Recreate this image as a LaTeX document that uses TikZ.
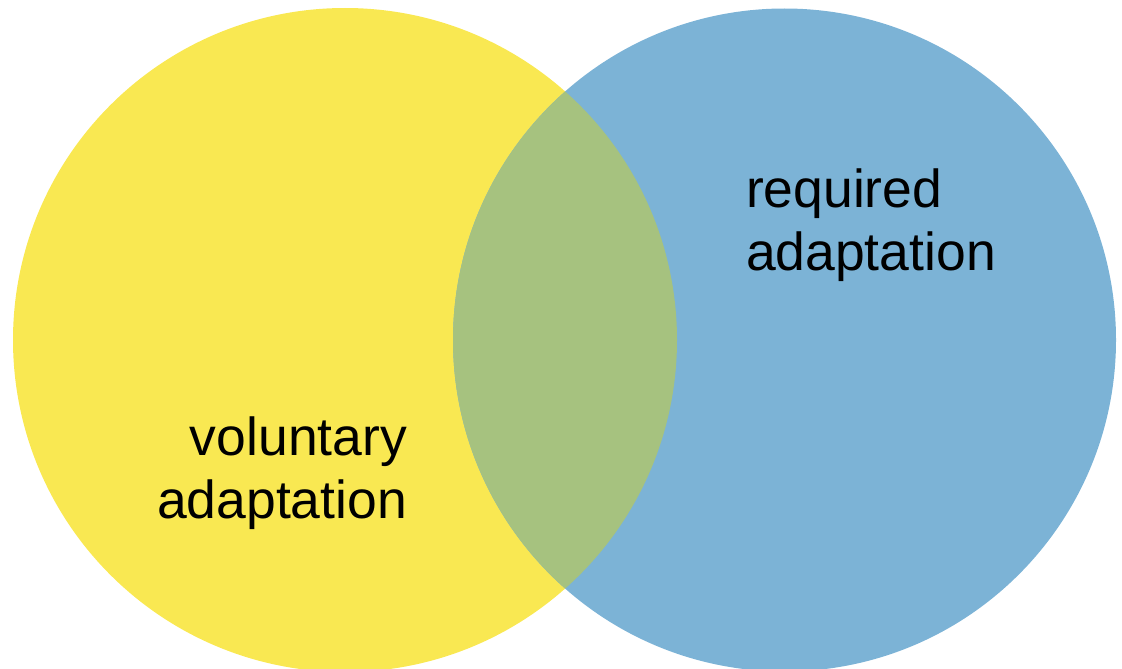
\documentclass[tikz,border=0pt]{standalone}
\usepackage{fontspec}
\setmainfont{Liberation Sans}
\definecolor{vyellow}{HTML}{F9E852}
\definecolor{vblue}{HTML}{7CB3D6}
\definecolor{vgreen}{HTML}{A6C27F}
\tikzset{
  lbl/.style={font=\fontsize{53.5}{64}\selectfont, text=black, inner sep=0pt, outer sep=0pt},
}
\begin{document}
\begin{tikzpicture}[x=1pt,y=-1pt]
\useasboundingbox (0,0) rectangle (1122,669);
\begin{scope}
\clip (0,0) rectangle (1122,669);
\fill[vyellow] (345,340) circle (332);
\fill[vblue] (784.5,340) circle (331.5);
\begin{scope}
\clip (345,340) circle (332);
\fill[vgreen] (784.5,340) circle (331.5);
\end{scope}
\end{scope}
\node[lbl, anchor=base west] (r1) at (746,207) {required};
\node[lbl, anchor=base west] (r2) at (746,270) {adaptation};
\node[lbl, anchor=base east] (v1) at (407,455) {voluntary};
\node[lbl, anchor=base east] (v2) at (407,518) {adaptation};
\end{tikzpicture}
\end{document}
